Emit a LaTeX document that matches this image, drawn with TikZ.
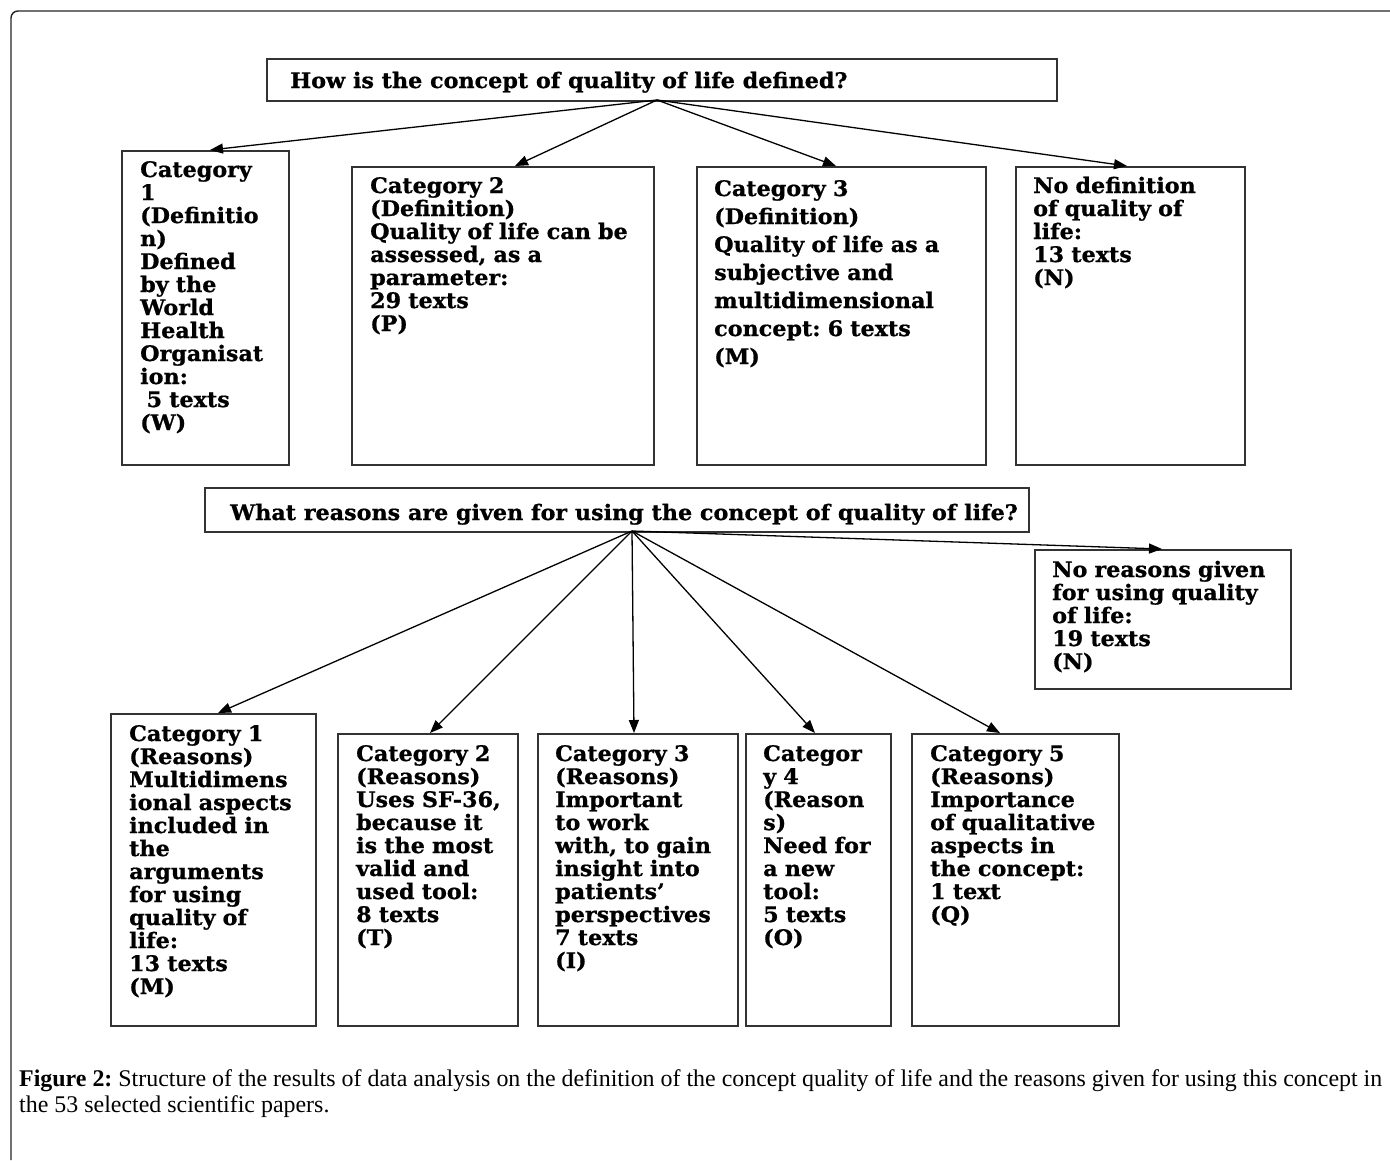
\documentclass[tikz,border=0pt]{standalone}
\usepackage{fontspec}
\setmainfont{Liberation Serif}
\newfontfamily\boxfamily{DejaVu Serif}[FakeStretch=1.04, BoldFeatures={FakeBold=0.8}]
\usetikzlibrary{arrows.meta}
\newlength\capwidth
\frenchspacing
\begin{document}
\frenchspacing
\settowidth\capwidth{\fontsize{20}{24}\selectfont\textbf{Figure 2:} Structure of the results of data analysis on the definition of the concept quality of life and the reasons given for using this concept in}%
\pgfmathsetmacro\capsize{1363/\capwidth*20}%
\begin{tikzpicture}[x=1pt,y=-1pt,
  frame/.style={draw=black!85, line width=1.4pt},
  cbox/.style={draw=black!80, line width=1.8pt, anchor=north west, inner sep=0pt},
  btext/.style={anchor=base west, inner sep=0pt, text width=400pt, align=left,
    font=\boxfamily\bfseries\fontsize{21.4}{23}\selectfont},
  qtext/.style={anchor=base west, inner sep=0pt,
    font=\boxfamily\bfseries\fontsize{21.4}{23}\selectfont},
  arr/.style={draw=black, line width=1.3pt, -{Triangle[length=13pt,width=10pt]}},
  captext/.style={anchor=base west, inner sep=0pt}
]
\useasboundingbox (0,0) rectangle (1390,1160);
\fill[white] (0,0) rectangle (1390,1160);
% outer frame (top and left only visible)
\draw[frame, rounded corners=7pt] (11,1160) -- (11,11) -- (1390,11);

% first question
\node[cbox, minimum width=790, minimum height=42] (q1) at (266,58) {};
\begin{scope}
  \clip (266,58) rectangle (1056,92);
  \node[qtext] (q1t) at (290,88) {How is the concept of quality of life defined?};
\end{scope}
\coordinate (s1) at (657,100);

% definition boxes
\node[cbox, minimum width=167, minimum height=314] (c1) at (121,150) {};
\node[cbox, minimum width=302, minimum height=298] (c2) at (351,166) {};
\node[cbox, minimum width=289, minimum height=298] (c3) at (696,166) {};
\node[cbox, minimum width=229, minimum height=298] (c4) at (1015,166) {};

\node[btext] (c1t) at (140,177) {Category\\1\\(Definitio\\n)\\Defined\\by the\\World\\Health\\Organisat\\ion:\\\hspace*{0.3em}5 texts\\(W)};
\node[btext] (c2t) at (370,193) {Category 2\\(Definition)\\Quality of life can be\\assessed, as a\\parameter:\\29 texts\\(P)};
\node[btext, font=\boxfamily\bfseries\fontsize{21.4}{28}\selectfont] (c3t) at (714,196) {Category 3\\(Definition)\\Quality of life as a\\subjective and\\multidimensional\\concept: 6 texts\\(M)};
\node[btext] (c4t) at (1033,193) {No definition\\of quality of\\life:\\13 texts\\(N)};

\draw[arr] (s1) -- ([xshift=89pt]c1.north west);
\draw[arr] (s1) -- ([xshift=164pt]c2.north west);
\draw[arr] (s1) -- ([xshift=140pt]c3.north west);
\draw[arr] (s1) -- ([xshift=112pt]c4.north west);

% second question
\node[cbox, minimum width=824, minimum height=44] (q2) at (204,487) {};
\begin{scope}
  \clip (204,487) rectangle (1028,524);
  \node[qtext] (q2t) at (230,520) {What reasons are given for using the concept of quality of life?};
\end{scope}
\coordinate (s2) at (632,531);

% reason boxes
\node[cbox, minimum width=256, minimum height=139] (rn) at (1034,549) {};
\node[cbox, minimum width=205, minimum height=312] (r1) at (110,713) {};
\node[cbox, minimum width=180, minimum height=292] (r2) at (337,733) {};
\node[cbox, minimum width=200, minimum height=292] (r3) at (537,733) {};
\node[cbox, minimum width=145, minimum height=292] (r4) at (745,733) {};
\node[cbox, minimum width=207, minimum height=292] (r5) at (911,733) {};

\node[btext] (rnt) at (1052,577) {No reasons given\\for using quality\\of life:\\19 texts\\(N)};
\node[btext] (r1t) at (129,741) {Category 1\\(Reasons)\\Multidimens\\ional aspects\\included in\\the\\arguments\\for using\\quality of\\life:\\13 texts\\(M)};
\node[btext] (r2t) at (356,761) {Category 2\\(Reasons)\\Uses SF-36,\\because it\\is the most\\valid and\\used tool:\\8 texts\\(T)};
\node[btext] (r3t) at (555,761) {Category 3\\(Reasons)\\Important\\to work\\with, to gain\\insight into\\patients’\\perspectives\\7 texts\\(I)};
\node[btext] (r4t) at (763,761) {Categor\\y 4\\(Reason\\s)\\Need for\\a new\\tool:\\5 texts\\(O)};
\node[btext] (r5t) at (930,761) {Category 5\\(Reasons)\\Importance\\of qualitative\\aspects in\\the concept:\\1 text\\(Q)};

\draw[arr] (s2) -- ([xshift=108pt]r1.north west);
\draw[arr] (s2) -- ([xshift=93pt]r2.north west);
\draw[arr] (s2) -- ([xshift=97pt]r3.north west);
\draw[arr] (s2) -- ([xshift=70pt]r4.north west);
\draw[arr] (s2) -- ([xshift=89pt]r5.north west);
\draw[arr] (s2) -- ([xshift=128pt]rn.north west);

% caption
\node[captext, font=\fontsize{\capsize}{24}\selectfont] (cap1) at (19,1086) {\textbf{Figure 2:} Structure of the results of data analysis on the definition of the concept quality of life and the reasons given for using this concept in};
\node[captext, font=\fontsize{\capsize}{24}\selectfont] (cap2) at (19,1112) {the 53 selected scientific papers.};
\end{tikzpicture}
\end{document}
